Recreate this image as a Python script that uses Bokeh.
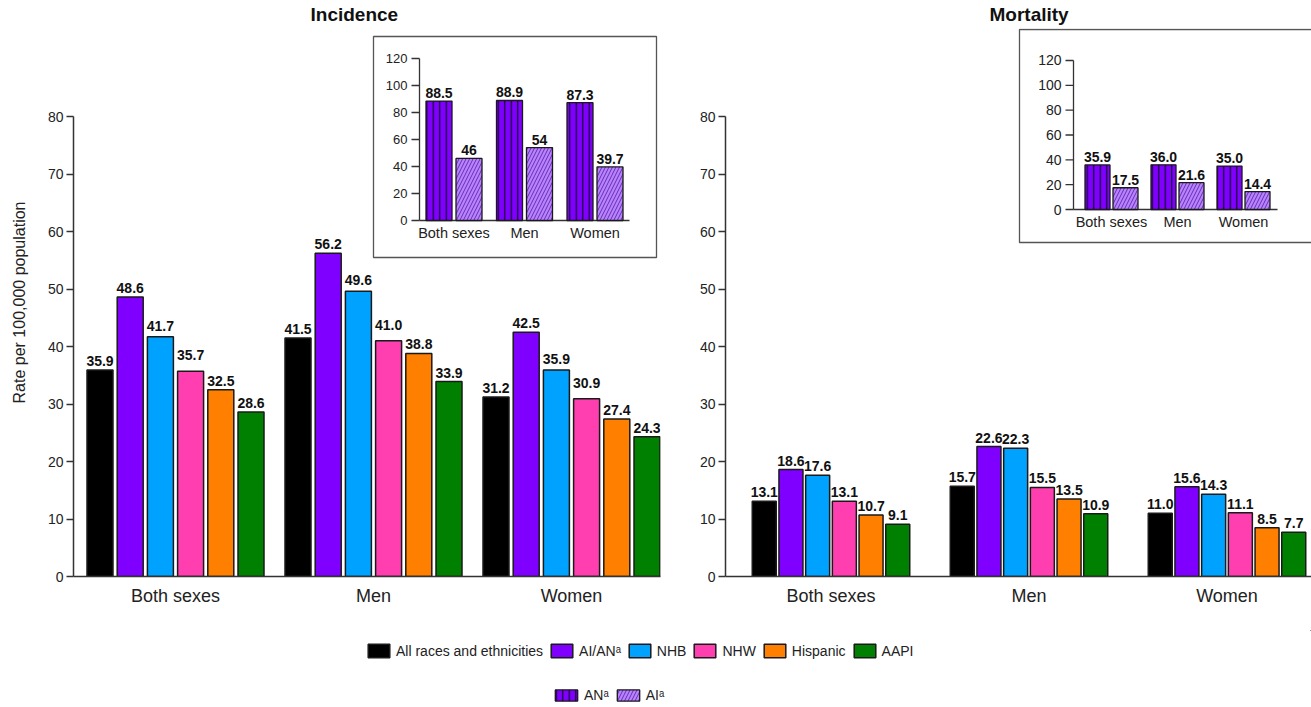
from bokeh.plotting import figure
from bokeh.models import ColumnDataSource, Range1d, FixedTicker, Legend, LegendItem
from bokeh.layouts import row, column
from bokeh.transform import dodge
from bokeh.core.properties import value
from bokeh.embed import file_html
from bokeh.resources import INLINE

# ---------------- data ----------------
categories = ["Both sexes", "Men", "Women"]
group_names = ["All races and ethnicities", "AI/AN\u1d43", "NHB", "NHW", "Hispanic", "AAPI"]

incidence_all = [35.9, 41.5, 31.2]
incidence_aian = [48.6, 56.2, 42.5]
incidence_nhb = [41.7, 49.6, 35.9]
incidence_nhw = [35.7, 41.0, 30.9]
incidence_hispanic = [32.5, 38.8, 27.4]
incidence_aapi = [28.6, 33.9, 24.3]

mortality_all = [13.1, 15.7, 11.0]
mortality_aian = [18.6, 22.6, 15.6]
mortality_nhb = [17.6, 22.3, 14.3]
mortality_nhw = [13.1, 15.5, 11.1]
mortality_hispanic = [10.7, 13.5, 8.5]
mortality_aapi = [9.1, 10.9, 7.7]

inset_names = ["AN\u1d43", "AI\u1d43"]
incidence_an = [88.5, 88.9, 87.3]
incidence_ai = [46, 54, 39.7]
mortality_an = [35.9, 36.0, 35.0]
mortality_ai = [17.5, 21.6, 14.4]

main_ticks = [0, 10, 20, 30, 40, 50, 60, 70, 80]
inset_ticks = [0, 20, 40, 60, 80, 100, 120]

titles = ["Incidence", "Mortality"]
y_label = "Rate per 100,000 population"

# ---------------- styles / layout ----------------
FONT = "Liberation Sans"
group_colors = ["#000000", "#7F00FF", "#00A2FF", "#FF3FAF", "#FF8000", "#008000"]
AN_COLOR, AI_COLOR = "#7F00FF", "#B784FF"
EDGE = "#1a1a1a"
AXIS = "#333333"
TXT = "#222222"

TOP_H, LEG_H = 630, 77
FRAME_TOP = 28     # page y of the top of both plot frames
ZERO_Y = 576       # page y of the zero line of both main charts
CAT_PX = 198.0     # px per category in main charts
Y_PX = 5.75        # px per unit in main charts


def main_panel(fig_w, frame_l, frame_w, center_px, pitch_px, bar_px, series, title,
               title_offset, lifts, ylab=None):
    frame_h = ZERO_Y - FRAME_TOP
    p = figure(width=fig_w, height=TOP_H,
               x_range=Range1d(-center_px / CAT_PX, (frame_w - center_px) / CAT_PX),
               y_range=Range1d(0, frame_h / Y_PX),
               output_backend="svg", toolbar_location=None, tools="",
               min_border_left=frame_l, min_border_right=fig_w - frame_l - frame_w,
               min_border_top=FRAME_TOP, min_border_bottom=TOP_H - ZERO_Y)
    p.outline_line_color = None
    p.grid.visible = False
    p.background_fill_color = "white"

    p.title.text = title
    p.title.align = "left"
    p.title.offset = title_offset
    p.title.vertical_align = "top"
    p.title.standoff = 4
    p.title.text_font = FONT
    p.title.text_font_size = "19px"
    p.title.text_font_style = "bold"
    p.title.text_color = "#111111"

    yax = p.yaxis[0]
    yax.ticker = FixedTicker(ticks=main_ticks)
    yax.bounds = (main_ticks[0], main_ticks[-1])
    yax.major_tick_out = 7
    yax.major_tick_in = 0
    yax.minor_tick_line_color = None
    yax.major_label_standoff = 3
    yax.major_label_text_font = FONT
    yax.major_label_text_font_size = "14px"
    yax.major_label_text_color = TXT
    yax.axis_line_color = AXIS
    yax.axis_line_width = 1.5
    yax.major_tick_line_color = AXIS
    yax.major_tick_line_width = 1.5
    if ylab:
        yax.axis_label = ylab
        yax.axis_label_text_font = FONT
        yax.axis_label_text_font_style = "normal"
        yax.axis_label_text_font_size = "16px"
        yax.axis_label_text_color = TXT
        yax.axis_label_standoff = 17

    xax = p.xaxis[0]
    xax.ticker = FixedTicker(ticks=list(range(len(categories))))
    xax.major_label_overrides = {i: c for i, c in enumerate(categories)}
    xax.major_tick_out = 0
    xax.major_tick_in = 0
    xax.minor_tick_line_color = None
    xax.major_label_standoff = 9
    xax.major_label_text_font = FONT
    xax.major_label_text_font_size = "18px"
    xax.major_label_text_color = TXT
    xax.axis_line_color = AXIS
    xax.axis_line_width = 1.5

    data = {"x": list(range(len(categories)))}
    for i, vals in enumerate(series):
        data[f"s{i}"] = vals
        data[f"t{i}"] = [str(v) for v in vals]
    src = ColumnDataSource(data)
    n = len(series)
    for i in range(n):
        off = (i - (n - 1) / 2) * pitch_px / CAT_PX
        p.vbar(x=dodge("x", off), top=f"s{i}", width=bar_px / CAT_PX, source=src,
               fill_color=group_colors[i], line_color=EDGE, line_width=1.5)
        p.text(x=dodge("x", off), y=f"s{i}", text=f"t{i}", source=src,
               text_align="center", text_baseline="bottom", y_offset=-lifts[i],
               text_font=value(FONT), text_font_style="bold", text_font_size="14px",
               text_color="#111111")
    return p


def inset(p, frame_w, axis_px, center_px, xscale, zero_py, yscale, xend_px, box,
          an_vals, ai_vals, pitch_px, bar_px, tick_fs, cat_fs, val_fs):
    """zero_py and box y values are page y; x values are relative to the frame's left edge."""
    frame_h = ZERO_Y - FRAME_TOP
    zero_f = zero_py - FRAME_TOP
    p.extra_x_ranges = {"ix": Range1d(-center_px / xscale, (frame_w - center_px) / xscale)}
    p.extra_y_ranges = {"iy": Range1d((zero_f - frame_h) / yscale, zero_f / yscale)}

    def dx(px):
        return (px - center_px) / xscale

    def dy(py):
        return (zero_py - py) / yscale

    kw = dict(x_range_name="ix", y_range_name="iy")
    bl, bt, br, bb = box
    p.quad(left=[dx(bl)], right=[dx(br)], top=[dy(bt)], bottom=[dy(bb)],
           fill_color="white", line_color="#555555", line_width=1.3, **kw)

    ax = dx(axis_px)
    tl = 8 / xscale
    nt = len(inset_ticks)
    p.segment(x0=[ax], y0=[inset_ticks[0]], x1=[ax], y1=[inset_ticks[-1]],
              line_color=AXIS, line_width=1.3, **kw)
    p.segment(x0=[ax - tl] * nt, y0=inset_ticks, x1=[ax] * nt, y1=inset_ticks,
              line_color=AXIS, line_width=1.3, **kw)
    p.text(x=[ax] * nt, y=inset_ticks, text=[str(t) for t in inset_ticks],
           x_offset=-12, text_align="right", text_baseline="middle",
           text_font=value(FONT), text_font_size=tick_fs, text_color=TXT, **kw)
    p.segment(x0=[ax], y0=[0], x1=[dx(xend_px)], y1=[0], line_color=AXIS, line_width=1.3, **kw)
    p.text(x=list(range(len(categories))), y=[0] * len(categories), text=categories,
           y_offset=4, text_align="center", text_baseline="top",
           text_font=value(FONT), text_font_size=cat_fs, text_color=TXT, **kw)

    src = ColumnDataSource(dict(x=list(range(len(categories))), an=an_vals, ai=ai_vals,
                                tan=[str(v) for v in an_vals], tai=[str(v) for v in ai_vals]))
    off = pitch_px / 2 / xscale
    p.vbar(x=dodge("x", -off), top="an", width=bar_px / xscale, source=src,
           fill_color=AN_COLOR, line_color=EDGE, line_width=1.3,
           hatch_pattern="vertical_line", hatch_color="#1a0033", hatch_scale=6.5, hatch_weight=1.3, **kw)
    p.vbar(x=dodge("x", off), top="ai", width=bar_px / xscale, source=src,
           fill_color=AI_COLOR, line_color=EDGE, line_width=1.3,
           hatch_pattern="right_diagonal_line", hatch_color="#6A2BB0", hatch_scale=7, hatch_weight=1.0, **kw)
    for col, tcol, sgn in (("an", "tan", -1), ("ai", "tai", 1)):
        p.text(x=dodge("x", sgn * off), y=col, text=tcol, source=src,
               text_align="center", text_baseline="bottom", y_offset=-3,
               text_font=value(FONT), text_font_style="bold", text_font_size=val_fs,
               text_color="#111111", **kw)


inc_series = [incidence_all, incidence_aian, incidence_nhb, incidence_nhw, incidence_hispanic, incidence_aapi]
mort_series = [mortality_all, mortality_aian, mortality_nhb, mortality_nhw, mortality_hispanic, mortality_aapi]

# Left panel: figure 680 wide, frame 73..660
pL = main_panel(680, 73, 587, 102, 30.2, 26, inc_series, titles[0], 237,
                [4, 4, 6, 11, 4, 4], y_label)
inset(pL, 587, 346, 380.5, 70.5, 220, 1.35, 556, (300, 36, 583, 257),
      incidence_an, incidence_ai, 30, 26, "13px", "14.5px", "14px")

# Right panel: figure 631 wide, frame 725..1311 (45..631 in figure)
pR = main_panel(631, 45, 586, 105.5, 26.7, 24, mort_series, titles[1], 264,
                [4, 4, 4, 4, 4, 4])
inset(pR, 586, 348, 386, 66, 209, 1.2417, 552, (294, 29, 620, 242),
      mortality_an, mortality_ai, 28, 25, "14px", "14.5px", "14px")

# Legend figure
pl = figure(width=1311, height=LEG_H, x_range=Range1d(0, 1), y_range=Range1d(0, 1),
            output_backend="svg", toolbar_location=None, tools="", min_border=0,
            x_axis_location=None, y_axis_location=None)
pl.outline_line_color = None
pl.grid.visible = False

items1 = []
for name, col in zip(group_names, group_colors):
    r = pl.vbar(x=[5], top=[5], bottom=[4], width=0.1, fill_color=col, line_color=EDGE, line_width=1.5)
    items1.append(LegendItem(label=name, renderers=[r]))
r_an = pl.vbar(x=[5], top=[5], bottom=[4], width=0.1, fill_color=AN_COLOR, line_color=EDGE, line_width=1.3,
               hatch_pattern="vertical_line", hatch_color="#1a0033", hatch_scale=6.5, hatch_weight=1.3)
r_ai = pl.vbar(x=[5], top=[5], bottom=[4], width=0.1, fill_color=AI_COLOR, line_color=EDGE, line_width=1.3,
               hatch_pattern="right_diagonal_line", hatch_color="#6A2BB0", hatch_scale=7, hatch_weight=1.0)
items2 = [LegendItem(label=inset_names[0], renderers=[r_an]),
          LegendItem(label=inset_names[1], renderers=[r_ai])]

common = dict(orientation="horizontal", padding=0, margin=0, border_line_color=None,
              background_fill_alpha=0, label_standoff=4, spacing=5,
              label_text_font=FONT, label_text_font_size="14px", label_text_color=TXT)
leg1 = Legend(items=items1, location=(365, 48), glyph_width=27, glyph_height=17, label_height=17, **common)
leg2 = Legend(items=items2, location=(552, 4), glyph_width=28, glyph_height=14, label_height=14, **common)
pl.add_layout(leg1)
pl.add_layout(leg2)

layout = column(row(pL, pR), pl)
open("out.html", "w").write(file_html(layout, INLINE))
